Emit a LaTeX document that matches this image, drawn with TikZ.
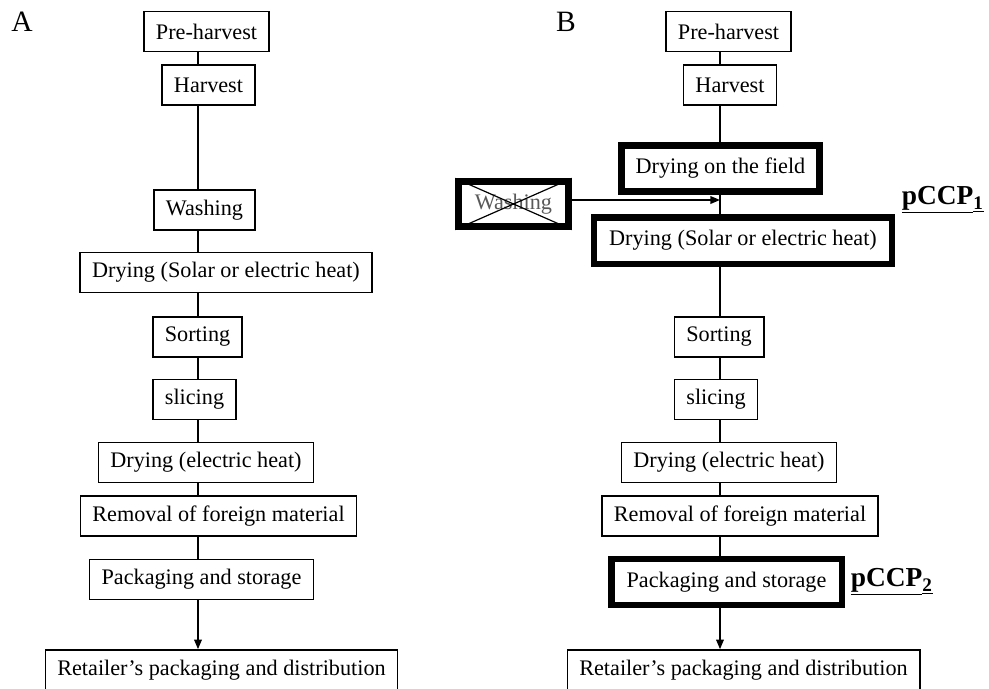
\documentclass[tikz,border=0pt]{standalone}
\usepackage{fontspec}
\setmainfont{Liberation Serif}
\usetikzlibrary{arrows.meta}
\tikzset{every path/.style={line width=0.4mm}, >={Triangle[length=2.4mm,width=1.9mm]}}
\tikzset{stepbox/.style={draw, inner xsep=3mm, minimum height=10mm, font=\fontsize{15.8}{18}\selectfont},
         ccpbox/.style={stepbox, line width=1.6mm, inner xsep=0pt},
         ccplabel/.style={anchor=west, inner sep=0pt, font=\fontsize{19.5}{22}\selectfont\bfseries},
         panel/.style={font=\fontsize{21}{22}\selectfont}}

\begin{document}
\begin{tikzpicture}[x=0.25mm, y=-0.25mm]
  \useasboundingbox (0,0) rectangle (989,688);
  \begin{scope}
   \node[panel] (labA) at ( 22, 22) {A};
   \coordinate (la) at (198,0);
   \node[stepbox] (pa) at (206.5, 31.5) {Pre-harvest};
   \node[stepbox] (ha) at (208.5, 85.0) {Harvest};
   \node[stepbox] (wa) at (204.5,210.0) {Washing};
   \node[stepbox] (sa) at (226.0,272.5) {Drying (Solar or electric heat)};
   \node[stepbox] (ra) at (197.5,337.0) {Sorting};
   \node[stepbox] (ca) at (194.5,399.5) {slicing};
   \node[stepbox] (ea) at (206.0,462.5) {Drying (electric heat)};
   \node[stepbox] (fa) at (218.5,516.0) {Removal of foreign material};
   \node[stepbox] (ka) at (201.5,579.5) {Packaging and storage};
   \node[stepbox] (da) at (221.5,670.0) {Retailer’s packaging and distribution};
   \draw (pa.south -| la) -- (ha.north -| la);
   \draw (ha.south -| la) -- (wa.north -| la);
   \draw (wa.south -| la) -- (sa.north -| la);
   \draw (sa.south -| la) -- (ra.north -| la);
   \draw (ra.south -| la) -- (ca.north -| la);
   \draw (ca.south -| la) -- (ea.north -| la);
   \draw (ea.south -| la) -- (fa.north -| la);
   \draw (fa.south -| la) -- (ka.north -| la);
   \draw[->] (ka.south -| la) -- (da.north -| la);
  \end{scope}
  \begin{scope}
   \node[panel] (labB) at (566, 22) {B};
   \coordinate (lb) at (720,0);
   \coordinate (jn) at (720,200);
   \node[stepbox] (pb) at (728.5, 31.5) {Pre-harvest};
   \node[stepbox] (hb) at (730.0, 85.0) {Harvest};
   \node[ccpbox, minimum width=49.5mm, minimum height=11.5mm] (gb) at (720.5,168.5) {Drying on the field};
   \node[ccpbox, minimum width=27.5mm, minimum height=11.2mm, text=black!65] (wb) at (513.5,204.0) {Washing};
   \draw[line width=0.3mm] (wb.north west) -- (wb.south east) (wb.south west) -- (wb.north east);
   \node[ccpbox, minimum width=74.4mm, minimum height=11.6mm] (sb) at (743.0,240.5) {Drying (Solar or electric heat)};
   \node[stepbox] (rb) at (719.0,337.0) {Sorting};
   \node[stepbox] (cb) at (716.0,399.5) {slicing};
   \node[stepbox] (eb) at (729.0,462.5) {Drying (electric heat)};
   \node[stepbox] (fb) at (740.0,516.0) {Removal of foreign material};
   \node[ccpbox, minimum width=57.6mm, minimum height=11.4mm] (kb) at (726.5,582.0) {Packaging and storage};
   \node[stepbox] (db) at (743.5,670.0) {Retailer’s packaging and distribution};
   \node[ccplabel] (ccp1) at (901,200) {\underline{pCCP}\underline{\textsubscript{1}}};
   \node[ccplabel] (ccp2) at (850,582) {\underline{pCCP}\underline{\textsubscript{2}}};
   \draw (pb.south -| lb) -- (hb.north -| lb);
   \draw (hb.south -| lb) -- (gb.north -| lb);
   \draw (gb.south -| lb) -- (sb.north -| lb);
   \draw[->] (wb.east |- jn) -- (jn);
   \draw (sb.south -| lb) -- (rb.north -| lb);
   \draw (rb.south -| lb) -- (cb.north -| lb);
   \draw (cb.south -| lb) -- (eb.north -| lb);
   \draw (eb.south -| lb) -- (fb.north -| lb);
   \draw (fb.south -| lb) -- (kb.north -| lb);
   \draw[->] (kb.south -| lb) -- (db.north -| lb);
  \end{scope}
\end{tikzpicture}
\end{document}
